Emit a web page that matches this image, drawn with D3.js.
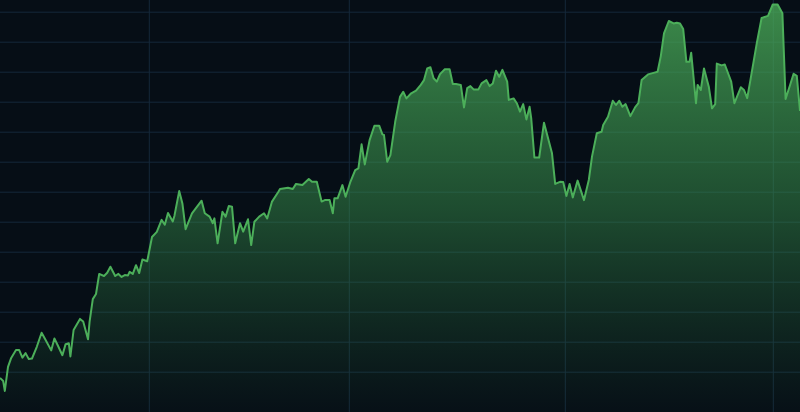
<!DOCTYPE html>
<html>
<head>
<meta charset="utf-8">
<script src="https://cdn.jsdelivr.net/npm/d3@7"></script>
<style>
html,body{margin:0;padding:0;background:#060e16;overflow:hidden;}
svg{display:block;}
</style>
</head>
<body>
<svg id="chart" width="800" height="412"></svg>
<script>
// time index (sessions) of each sample
const t = [0,2,3,5,7,10,12,14,16,18,20,23,26,28,32,34,36,39,41,43,44,46,50,52,55,56,58,60,62,65,67,69,72,74,76,78,80,81,83,85,87,89,92,95,98,101,103,105,108,109,112,114,116,120,126,128,131,133,134,136,139,141,143,145,147,150,152,155,157,159,162,165,167,170,174,175,180,183,185,189,193,195,198,201,203,206,208,209,211,214,216,219,222,224,226,228,231,234,237,239,240,242,244,247,250,252,254,257,260,263,265,267,269,271,273,275,278,281,283,285,288,290,292,294,296,299,301,304,306,308,310,312,314,317,318,321,323,325,327,329,331,332,334,337,340,345,347,350,352,354,356,358,361,365,368,370,373,376,377,380,383,385,387,389,391,394,397,399,401,405,409,411,413,415,418,421,423,425,427,429,431,432,435,436,438,440,443,445,447,448,451,453,457,459,463,465,467,469,473,476,480,483,486,489,491,494,496,498,500];
// series values
const price = [17.9,16.9,13.6,21.6,24.6,27.2,27.2,24.7,26.2,24.2,24.4,28.3,33.0,31.1,27.1,31.1,28.9,25.5,29.2,29.5,25.1,33.9,37.6,36.7,30.8,36.7,44.2,45.9,52.6,51.9,53.0,55.0,51.9,52.6,51.6,52.2,52.1,53.3,52.6,55.5,52.9,57.4,56.8,64.9,66.6,70.6,69.0,72.9,70.1,71.9,80.2,76.1,67.5,72.8,77.0,72.8,71.7,69.5,71.1,62.8,73.3,71.7,75.2,75.0,62.8,69.5,66.7,70.8,62.2,70.0,71.7,72.8,71.1,76.7,80.0,80.9,81.3,80.9,82.6,82.2,84.2,83.3,83.3,76.7,77.2,77.2,72.8,77.8,77.8,82.2,78.3,83.3,87.2,87.8,95.8,89.1,97.2,102.0,102.0,99.1,98.9,90.0,92.2,103.3,111.6,113.3,111.1,112.8,113.7,115.6,117.2,121.1,121.5,117.8,116.7,119.2,120.8,120.8,115.9,115.9,115.6,108.1,114.5,115.2,114.1,114.1,116.1,117.2,115.2,116.1,120.3,118.3,120.6,116.7,110.6,111.1,109.5,106.7,109.2,104.1,108.3,104.5,91.4,91.4,103.0,92.8,82.6,83.3,83.2,78.6,82.6,78.1,83.7,77.2,83.9,91.7,99.5,100.0,102.2,105.0,110.3,108.9,110.3,108.3,109.2,105.2,108.2,109.5,117.2,119.1,119.7,120.0,125.2,132.8,136.9,136.1,136.3,136.1,134.2,123.3,123.3,126.3,109.5,115.6,113.9,121.1,115.0,107.8,109.2,122.7,122.1,122.4,116.7,109.5,114.8,113.9,111.2,117.2,129.5,137.9,138.6,142.4,142.4,139.5,110.9,115.9,119.3,118.6,106.9];
// grid tick values
const xTicks = [93,218,353,483];
const yTicks = [20,30,40,50,60,70,80,90,100,110,120,130,140];

const W = 800, H = 412;
const data = t.map((d,i)=>({t:d, v:price[i]}));
const svg = d3.select("#chart");

const x = d3.scaleLinear().domain([0,500]).range([0,W]);
const y = d3.scaleLinear().domain([0,140]).range([431.7,11.7]);

const defs = svg.append("defs");
const grad = defs.append("linearGradient").attr("id","ag")
  .attr("gradientUnits","userSpaceOnUse").attr("x1",0).attr("x2",0).attr("y1",0).attr("y2",H);
grad.append("stop").attr("offset","0%").attr("stop-color","#4caf5a").attr("stop-opacity",0.78);
grad.append("stop").attr("offset","50%").attr("stop-color","#3c9a50").attr("stop-opacity",0.45);
grad.append("stop").attr("offset","100%").attr("stop-color","#2e7d44").attr("stop-opacity",0.02);

svg.append("rect").attr("width",W).attr("height",H).attr("fill","#060e16");

const gy = svg.append("g").attr("class","grid")
  .call(d3.axisLeft(y).tickValues(yTicks).tickSize(-W).tickFormat(""));
const gx = svg.append("g").attr("class","grid").attr("transform",`translate(0,${H})`)
  .call(d3.axisBottom(x).tickValues(xTicks).tickSize(-H).tickFormat(""));
svg.selectAll(".grid .domain").remove();
svg.selectAll(".grid line").attr("stroke","#15283a").attr("stroke-width",1);

const area = d3.area().x(d=>x(d.t)).y0(H).y1(d=>y(d.v));
const line = d3.line().x(d=>x(d.t)).y(d=>y(d.v));

svg.append("path").datum(data).attr("d",area).attr("fill","url(#ag)");
svg.append("path").datum(data).attr("d",line).attr("fill","none")
  .attr("stroke","#4caf5a").attr("stroke-width",2).attr("stroke-linejoin","round");
</script>
</body>
</html>
